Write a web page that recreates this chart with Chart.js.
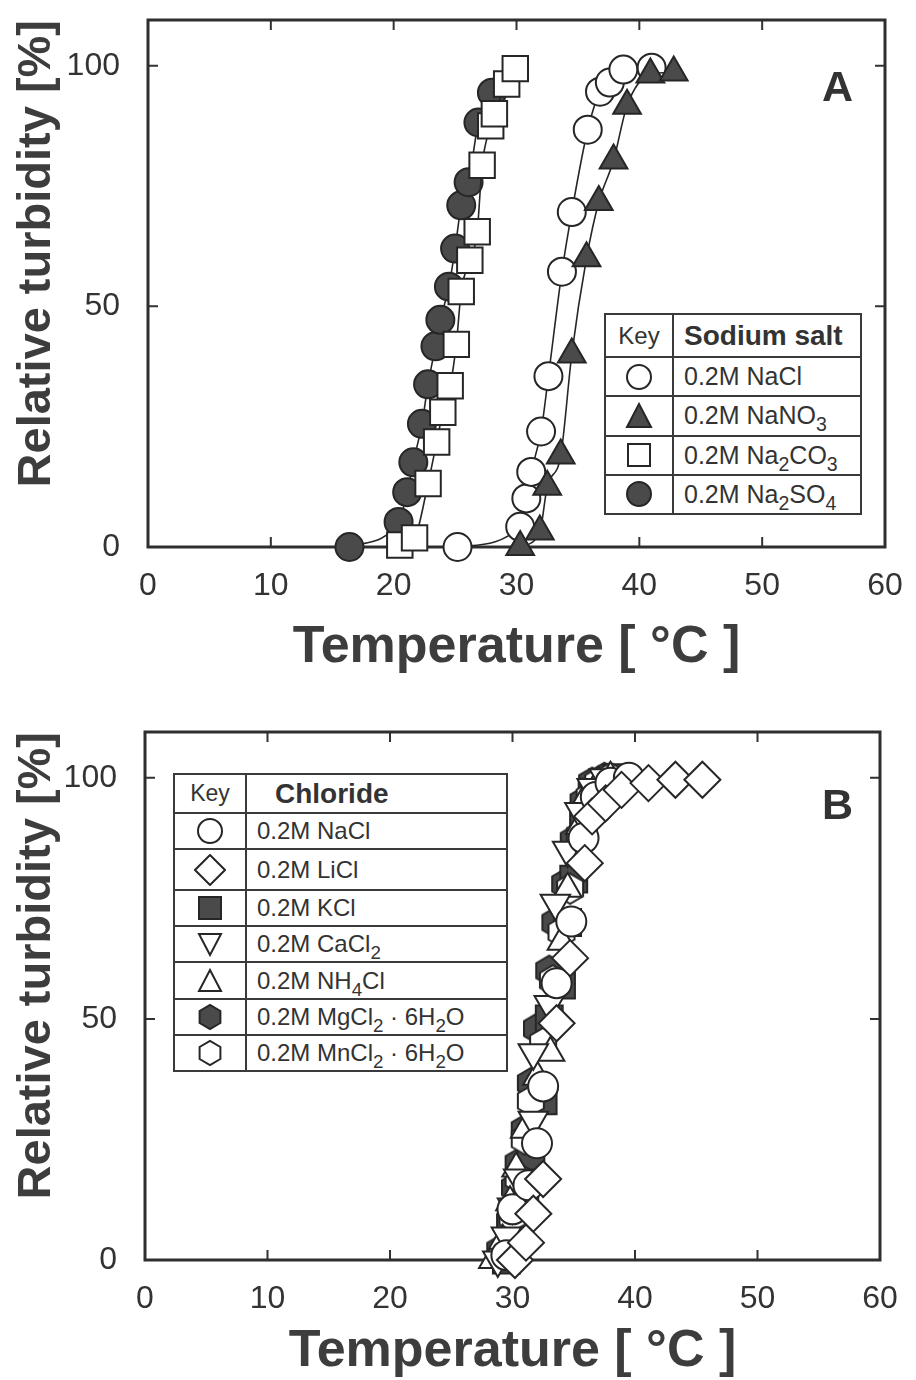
<!DOCTYPE html>
<html>
<head>
<meta charset="utf-8">
<script src="https://cdn.jsdelivr.net/npm/chart.js@4.4.1/dist/chart.umd.min.js"></script>
<style>
body { margin:0; background:#fff; width:916px; height:1380px; position:relative; overflow:hidden; font-family:"Liberation Sans", Arial, sans-serif; }
.panel { position:absolute; left:0; width:916px; height:690px; }
.key { position:absolute; border-collapse:collapse; color:#333; table-layout:fixed; background:#fff; }
.key td { border:2px solid #3a3a3a; padding:0; white-space:nowrap; }
.key td.sym { text-align:center; }
.key td.sym svg { display:block; margin:0 auto; }
.key sub { font-size:0.78em; vertical-align:-0.35em; line-height:0; }
.tag { position:absolute; font-weight:bold; font-size:43px; color:#333; }
</style>
</head>
<body>
<div class="panel" style="top:0"><canvas id="chartA" width="916" height="690"></canvas></div>
<div class="panel" style="top:690px"><canvas id="chartB" width="916" height="690"></canvas></div>
<div class="tag" style="left:822px;top:62px">A</div>
<div class="tag" style="left:822px;top:780px">B</div>

<table class="key" id="keyA" style="left:604px;top:313px;width:258px;height:202px"></table>
<table class="key" id="keyB" style="left:173px;top:773px;width:335px;height:299px"></table>

<script>
// axis ticks
var xTicks = [0, 10, 20, 30, 40, 50, 60];
var yTicks = [0, 50, 100];

// panel A - sodium salts (temperature, relative turbidity)
var naclA_T  = [25.2, 30.3, 30.8, 31.2, 32.0, 32.6, 33.7, 34.5, 35.8, 36.8, 37.6, 38.7, 41.0];
var naclA_Y  = [0, 4.2, 10.1, 15.6, 24.0, 35.5, 57.2, 69.6, 86.7, 94.6, 96.5, 99.2, 99.6];
var nano3A_T = [30.3, 31.9, 32.5, 33.6, 34.5, 35.7, 36.7, 37.9, 39.0, 40.9, 42.8];
var nano3A_Y = [0, 3.2, 12.5, 19.0, 40.0, 60.0, 71.7, 80.3, 91.7, 98.2, 98.6];
var na2co3A_T = [20.5, 21.7, 22.8, 23.5, 24.0, 24.6, 25.1, 25.5, 26.2, 26.8, 27.2, 27.9, 28.2, 29.2, 29.9];
var na2co3A_Y = [0.4, 1.9, 13.2, 21.8, 28.0, 33.5, 42.1, 53.1, 59.6, 65.5, 79.3, 87.5, 90.0, 96.2, 99.4];
var na2so4A_T = [16.4, 20.4, 21.1, 21.6, 22.3, 22.8, 23.4, 23.8, 24.5, 25.0, 25.5, 26.1, 26.9, 28.0];
var na2so4A_Y = [0, 5.2, 11.4, 17.6, 25.6, 33.8, 41.7, 47.2, 54.1, 62.0, 71.0, 75.8, 88.2, 94.4];

// panel B - chlorides
var naclB_T = [29.5, 30.0, 31.3, 32.0, 32.5, 33.6, 34.8, 35.8, 36.8, 38.0, 39.5];
var naclB_Y = [1, 10.5, 15.5, 24.2, 36.0, 57.4, 70.2, 87.5, 96.0, 99.0, 100];
var liclB_T = [30.2, 31.1, 31.7, 32.5, 33.6, 34.7, 35.9, 36.5, 37.6, 38.9, 41.1, 43.3, 45.5];
var liclB_Y = [0, 3.6, 9.6, 16.8, 49.1, 62.6, 82.3, 92.0, 94.7, 97.5, 98.9, 99.6, 99.6];
var kclB_T = [29.5, 30.5, 31.0, 31.5, 32.5, 33.0, 34.0, 34.5, 35.0, 35.8, 36.5, 37.5, 38.5];
var kclB_Y = [0, 8, 15, 21, 33, 50, 57, 70, 79, 90, 97, 99, 100];
var cacl2B_T = [28.8, 29.5, 30.0, 30.5, 31.7, 31.7, 33.0, 33.5, 34.5, 35.5, 36.5, 37.5];
var cacl2B_Y = [0, 5, 11, 17, 29, 43, 53, 74, 85, 93, 98, 100];
var nh4clB_T = [28.4, 29.2, 29.8, 30.3, 31.0, 32.0, 33.1, 34.0, 34.5, 35.5, 36.0, 37.0, 38.0];
var nh4clB_Y = [0, 4, 12, 19, 27, 38, 43, 66, 77, 90, 96, 99, 100];
var mgcl2B_T = [29.0, 29.8, 30.2, 30.5, 31.0, 31.5, 32.0, 33.0, 33.5, 34.3, 35.0, 35.8, 36.5, 37.5];
var mgcl2B_Y = [2, 8, 15, 20, 27, 36.7, 48, 60, 70, 78, 87, 95, 99, 100];
var mncl2B_T = [29.3, 30.0, 30.5, 31.0, 31.5, 32.5, 33.3, 34.0, 34.7, 35.5, 36.3, 37.0, 38.0];
var mncl2B_Y = [1, 9, 17, 25, 33, 45, 58, 68, 77, 88, 96, 99, 100];

var ink = '#262626';
var grey = '#4a4a4a';

function pts(xs, ys) {
    return xs.map(function(x, i){ return {x: x, y: ys[i]}; });
}

// hexagon marker as a small canvas (chart.js has no hexagon style)
function hexMarker(r, fill) {
    var c = document.createElement('canvas');
    var s = Math.ceil(2 * r + 4);
    c.width = s; c.height = s;
    var g = c.getContext('2d');
    g.beginPath();
    for (var k = 0; k < 6; k++) {
        var a = Math.PI / 6 + k * Math.PI / 3;
        var px = s / 2 + r * Math.cos(a), py = s / 2 + r * Math.sin(a);
        if (k === 0) g.moveTo(px, py); else g.lineTo(px, py);
    }
    g.closePath();
    g.fillStyle = fill; g.fill();
    g.lineWidth = 2; g.strokeStyle = ink; g.stroke();
    return c;
}

// frame round the plot and short inward ticks, drawn from the scales
var frameTicks = {
    id: 'frameTicks',
    beforeDatasetsDraw: function(chart) {
        var ctx = chart.ctx, a = chart.chartArea;
        var xs = chart.scales.x, ys = chart.scales.y;
        ctx.save();
        ctx.strokeStyle = '#333';
        ctx.lineWidth = 2;
        xs.ticks.forEach(function(t){
            var px = xs.getPixelForValue(t.value);
            ctx.beginPath();
            ctx.moveTo(px, a.bottom); ctx.lineTo(px, a.bottom - 10);
            ctx.moveTo(px, a.top); ctx.lineTo(px, a.top + 10);
            ctx.stroke();
        });
        ys.ticks.forEach(function(t){
            var py = ys.getPixelForValue(t.value);
            ctx.beginPath();
            ctx.moveTo(a.left, py); ctx.lineTo(a.left + 10, py);
            ctx.moveTo(a.right, py); ctx.lineTo(a.right - 10, py);
            ctx.stroke();
        });
        ctx.lineWidth = 3;
        ctx.strokeStyle = '#2e2e2e';
        ctx.strokeRect(a.left, a.top, a.right - a.left, a.bottom - a.top);
        ctx.restore();
    }
};

function noPad(s) {
    s.paddingTop = 0; s.paddingBottom = 0; s.paddingLeft = 0; s.paddingRight = 0;
}

function makeOptions(yWidth, xHeight, pad, titleBottom) {
    return {
        responsive: false,
        animation: false,
        layout: { padding: pad },
        plugins: { legend: { display: false }, tooltip: { enabled: false } },
        scales: {
            x: {
                type: 'linear', min: 0, max: 60,
                afterBuildTicks: function(s){ s.ticks = xTicks.map(function(v){ return {value: v}; }); },
                afterFit: function(s){ s.height = xHeight; noPad(s); },
                grid: { display: false, drawTicks: false },
                border: { display: false },
                ticks: { color: '#333', padding: 20, font: { family: 'Liberation Sans', size: 32 } },
                title: { display: true, text: 'Temperature [ °C ]', color: '#3d3d3d',
                         font: { family: 'Liberation Sans', size: 52, weight: 'bold', lineHeight: 1.0 },
                         padding: { top: 0, bottom: titleBottom } }
            },
            y: {
                type: 'linear', min: 0, max: 109.5,
                afterBuildTicks: function(s){ s.ticks = yTicks.map(function(v){ return {value: v}; }); },
                afterFit: function(s){ s.width = yWidth; noPad(s); },
                grid: { display: false, drawTicks: false },
                border: { display: false },
                ticks: { color: '#333', padding: 28, font: { family: 'Liberation Sans', size: 32 } },
                title: { display: true, text: 'Relative turbidity [%]', align: 'end', color: '#3d3d3d',
                         font: { family: 'Liberation Sans', size: 47, weight: 'bold', lineHeight: 1.0 },
                         padding: { top: 14, bottom: 0 } }
            }
        }
    };
}

function series(label, xs, ys, style, r, fill, line, order) {
    return {
        label: label,
        data: pts(xs, ys),
        showLine: line,
        borderColor: ink,
        borderWidth: 1.6,
        cubicInterpolationMode: 'monotone',
        pointStyle: style,
        pointRadius: r,
        pointHoverRadius: r,
        pointBackgroundColor: fill,
        pointBorderColor: ink,
        pointBorderWidth: 2,
        clip: false,
        order: order
    };
}

new Chart(document.getElementById('chartA'), {
    type: 'scatter',
    data: {
        datasets: [
            series('0.2M NaCl', naclA_T, naclA_Y, 'circle', 14, '#fff', true, 4),
            series('0.2M NaNO3', nano3A_T, nano3A_Y, 'triangle', 16, grey, true, 3),
            series('0.2M Na2SO4', na2so4A_T, na2so4A_Y, 'circle', 14, grey, true, 2),
            series('0.2M Na2CO3', na2co3A_T, na2co3A_Y, 'rect', 18, '#fff', true, 1)
        ]
    },
    options: makeOptions(148, 143, { left: 0, right: 31, top: 18, bottom: 0 }, 16),
    plugins: [frameTicks]
});

var hexFilled = hexMarker(15, grey);
var hexOpen = hexMarker(15, '#fff');

var cacl2Set = series('0.2M CaCl2', cacl2B_T, cacl2B_Y, 'triangle', 17, '#fff', false, 4);
cacl2Set.pointRotation = 180; // CaCl2 markers point down

new Chart(document.getElementById('chartB'), {
    type: 'scatter',
    data: {
        datasets: [
            series('0.2M MgCl2 6H2O', mgcl2B_T, mgcl2B_Y, hexFilled, 15, grey, false, 8),
            series('0.2M KCl', kclB_T, kclB_Y, 'rect', 19, grey, false, 7),
            series('0.2M MnCl2 6H2O', mncl2B_T, mncl2B_Y, hexOpen, 15, '#fff', false, 6),
            series('0.2M NH4Cl', nh4clB_T, nh4clB_Y, 'triangle', 16, '#fff', false, 5),
            cacl2Set,
            series('0.2M NaCl', naclB_T, naclB_Y, 'circle', 15, '#fff', false, 3),
            series('0.2M LiCl', liclB_T, liclB_Y, 'rectRot', 18, '#fff', false, 2)
        ]
    },
    options: makeOptions(145, 120, { left: 0, right: 36, top: 42, bottom: 0 }, 2),
    plugins: [frameTicks]
});

// key tables
function svgMark(shape, fill, s) {
    var c = s / 2, r = s / 2 - 2, p;
    if (shape === 'circle') p = '<circle cx="' + c + '" cy="' + c + '" r="' + r + '"/>';
    else if (shape === 'rect') p = '<rect x="3" y="3" width="' + (s - 6) + '" height="' + (s - 6) + '"/>';
    else if (shape === 'diamond') p = '<polygon points="' + c + ',1 ' + (s - 1) + ',' + c + ' ' + c + ',' + (s - 1) + ' 1,' + c + '"/>';
    else if (shape === 'tri') p = '<polygon points="' + c + ',2 ' + (s - 2) + ',' + (s - 3) + ' 2,' + (s - 3) + '"/>';
    else if (shape === 'dtri') p = '<polygon points="2,3 ' + (s - 2) + ',3 ' + c + ',' + (s - 2) + '"/>';
    else {
        var v = [];
        for (var k = 0; k < 6; k++) {
            var a = Math.PI / 6 + k * Math.PI / 3;
            v.push((c + r * Math.cos(a)).toFixed(1) + ',' + (c + r * Math.sin(a)).toFixed(1));
        }
        p = '<polygon points="' + v.join(' ') + '"/>';
    }
    return '<svg width="' + s + '" height="' + s + '" fill="' + fill + '" stroke="' + ink + '" stroke-width="2">' + p + '</svg>';
}

function buildKey(id, head, rows, symW, keySize, headSize, textSize, headH) {
    var html = '<tr style="height:' + headH + 'px"><td class="sym" style="width:' + symW + 'px;font-size:' + keySize + 'px">Key</td>' +
        '<td style="font-weight:bold;font-size:' + headSize + 'px;padding-left:10px">' + head + '</td></tr>';
    rows.forEach(function(r){
        html += '<tr><td class="sym">' + r[0] + '</td><td style="font-size:' + textSize + 'px;padding-left:10px">' + r[1] + '</td></tr>';
    });
    document.getElementById(id).innerHTML = html;
}

buildKey('keyA', 'Sodium salt', [
    [svgMark('circle', '#fff', 28), '0.2M NaCl'],
    [svgMark('tri', grey, 28), '0.2M NaNO<sub>3</sub>'],
    [svgMark('rect', '#fff', 28), '0.2M Na<sub>2</sub>CO<sub>3</sub>'],
    [svgMark('circle', grey, 28), '0.2M Na<sub>2</sub>SO<sub>4</sub>']
], 66, 24, 28, 25, 43);

buildKey('keyB', '<span style="padding-left:18px">Chloride</span>', [
    [svgMark('circle', '#fff', 28), '0.2M NaCl'],
    [svgMark('diamond', '#fff', 32), '0.2M LiCl'],
    [svgMark('rect', grey, 28), '0.2M KCl'],
    [svgMark('dtri', '#fff', 26), '0.2M CaCl<sub>2</sub>'],
    [svgMark('tri', '#fff', 26), '0.2M NH<sub>4</sub>Cl'],
    [svgMark('hex', grey, 28), '0.2M MgCl<sub>2</sub> · 6H<sub>2</sub>O'],
    [svgMark('hex', '#fff', 28), '0.2M MnCl<sub>2</sub> · 6H<sub>2</sub>O']
], 70, 23, 28, 24, 39);
</script>
</body>
</html>
